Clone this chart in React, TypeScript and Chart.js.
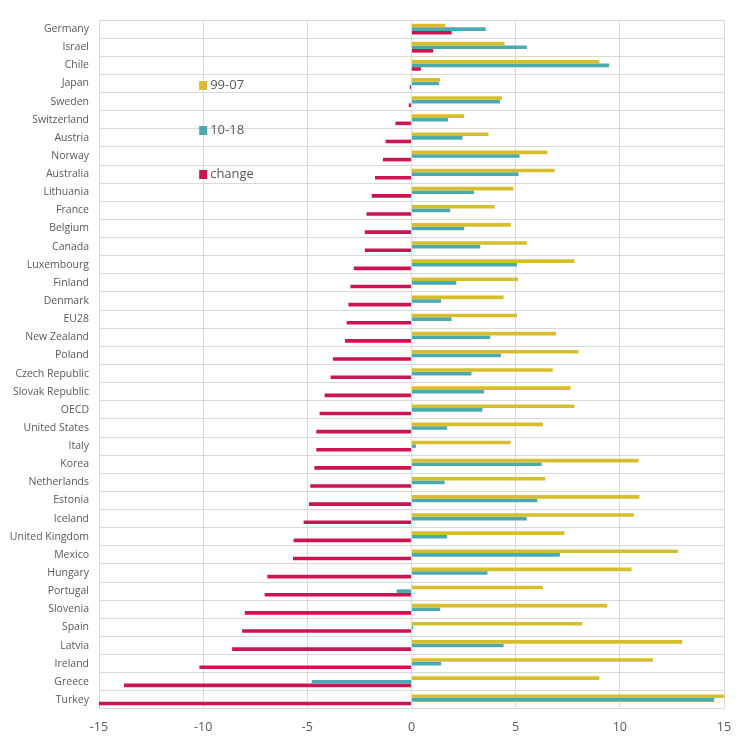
import React, { useEffect, useRef } from "react";
import { Chart, registerables } from "chart.js";

Chart.register(...registerables);

const countries = [
  "Germany", "Israel", "Chile", "Japan", "Sweden", "Switzerland", "Austria", "Norway",
  "Australia", "Lithuania", "France", "Belgium", "Canada", "Luxembourg", "Finland",
  "Denmark", "EU28", "New Zealand", "Poland", "Czech Republic", "Slovak Republic", "OECD",
  "United States", "Italy", "Korea", "Netherlands", "Estonia", "Iceland", "United Kingdom",
  "Mexico", "Hungary", "Portugal", "Slovenia", "Spain", "Latvia", "Ireland", "Greece", "Turkey",
];

const period9907 = [
  1.63, 4.47, 9.02, 1.38, 4.34, 2.53, 3.70, 6.52, 6.87, 4.89, 3.99, 4.77, 5.54, 7.82, 5.11,
  4.42, 5.06, 6.94, 8.01, 6.78, 7.64, 7.82, 6.31, 4.76, 10.9, 6.42, 10.94, 10.67, 7.34,
  12.79, 10.56, 6.31, 9.40, 8.19, 13.0, 11.59, 9.02, 29.6,
];

const period1018 = [
  3.56, 5.54, 9.49, 1.33, 4.25, 1.76, 2.45, 5.19, 5.14, 3.0, 1.86, 2.53, 3.30, 5.06, 2.15,
  1.42, 1.92, 3.78, 4.29, 2.88, 3.48, 3.40, 1.71, 0.21, 6.25, 1.59, 6.04, 5.53, 1.71,
  7.12, 3.65, -0.71, 1.38, 0.08, 4.42, 1.42, -4.79, 14.53,
];

const changeValues = [
  1.93, 1.04, 0.45, -0.08, -0.13, -0.77, -1.24, -1.37, -1.75, -1.91, -2.16, -2.24, -2.24,
  -2.77, -2.93, -3.03, -3.11, -3.19, -3.77, -3.88, -4.17, -4.41, -4.57, -4.57, -4.66, -4.86,
  -4.92, -5.18, -5.66, -5.69, -6.92, -7.05, -8.0, -8.13, -8.61, -10.18, -13.8, -15.07,
];

const seriesNames = ["99-07", "10-18", "change"];
const seriesColors = ["#D6BE2E", "#4AAAB0", "#CC1451"];
const xTicks = [-15, -10, -5, 0, 5, 10, 15];

const legendPlugin = {
  id: "insideLegend",
  afterDraw(chart: any) {
    const ctx = chart.ctx;
    const xs = chart.scales.x;
    const top = chart.chartArea.top;
    const cx = xs.getPixelForValue(-10);
    const offsets = [65, 110, 154];
    ctx.save();
    ctx.font = '13px "Open Sans", sans-serif';
    ctx.textBaseline = "middle";
    ctx.textAlign = "left";
    seriesNames.forEach((name, i) => {
      const y = top + offsets[i];
      ctx.fillStyle = seriesColors[i];
      ctx.fillRect(cx - 4, y - 4, 8, 9);
      ctx.fillStyle = "#595959";
      ctx.fillText(name, cx + 7, y);
    });
    ctx.restore();
  },
};

export default function App() {
  const canvasRef = useRef<HTMLCanvasElement | null>(null);

  useEffect(() => {
    if (!canvasRef.current) return;
    const datasets = [period9907, period1018, changeValues].map((data, i) => ({
      label: seriesNames[i],
      data,
      backgroundColor: seriesColors[i],
      borderWidth: 0,
      categoryPercentage: 0.6,
      barPercentage: 1.0,
    }));
    const chart = new Chart(canvasRef.current, {
      type: "bar",
      data: { labels: countries, datasets },
      options: {
        animation: false,
        responsive: false,
        maintainAspectRatio: false,
        indexAxis: "y",
        layout: { padding: { top: 20, right: 26, left: 0, bottom: 0 } },
        plugins: {
          legend: { display: false },
          tooltip: { enabled: false },
        },
        scales: {
          x: {
            min: -15,
            max: 15,
            afterBuildTicks: (scale: any) => {
              scale.ticks = xTicks.map((v) => ({ value: v }));
            },
            afterFit: (scale: any) => {
              scale.height = 40;
            },
            ticks: {
              color: "#595959",
              font: { size: 12.5, family: '"Open Sans", sans-serif' },
              padding: 11,
            },
            grid: { color: "#D9D9D9", drawTicks: false, lineWidth: 1 },
            border: { display: false },
          },
          y: {
            afterFit: (scale: any) => {
              scale.width = 99;
            },
            ticks: {
              color: "#595959",
              font: { size: 10.5, family: '"Open Sans", sans-serif' },
              padding: 10,
              autoSkip: false,
            },
            grid: { color: "#D9D9D9", drawTicks: false, offset: true, lineWidth: 1 },
            border: { display: false },
          },
        },
      },
      plugins: [legendPlugin],
    } as any);
    return () => chart.destroy();
  }, []);

  return (
    <div style={{ position: "absolute", left: 0, top: 0, width: 750, height: 749, background: "#fff" }}>
      <canvas ref={canvasRef} width={750} height={749} style={{ display: "block" }} />
    </div>
  );
}
